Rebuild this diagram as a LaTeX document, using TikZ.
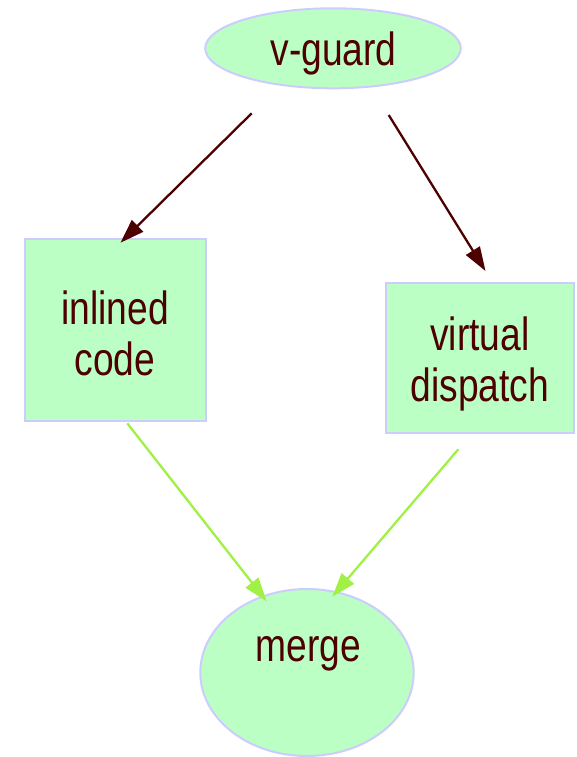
\documentclass[tikz,border=0pt]{standalone}
\usepackage{fontspec}
\setmainfont[FakeStretch=0.8]{Liberation Sans}
\usetikzlibrary{arrows.meta,shapes.geometric}
\definecolor{nodefill}{HTML}{BBFFC4}
\definecolor{nodeline}{HTML}{CCCCFF}
\definecolor{ink}{HTML}{4C0000}
\definecolor{lime}{HTML}{A0F046}
\begin{document}
\begin{tikzpicture}[x=1pt,y=-1pt,
  shapebox/.style={draw=nodeline,fill=nodefill,line width=2pt,inner sep=0pt,outer sep=0pt,rectangle},
  shapeell/.style={draw=nodeline,fill=nodefill,line width=2pt,inner sep=0pt,outer sep=0pt,ellipse},
  lbl/.style={text=ink,font=\fontsize{46.5}{51}\selectfont,anchor=base,inner sep=0pt},
  darkedge/.style={draw=ink,line width=2.3pt,-{Triangle[length=24pt,width=16pt]}},
  greenedge/.style={draw=lime,line width=2.3pt,-{Triangle[length=24pt,width=16pt]}}]
\useasboundingbox (0,0) rectangle (577,757);
\node[shapeell,minimum width=255.6pt,minimum height=80pt] (vg) at (333,48.3) {};
\node[shapebox,minimum width=181pt,minimum height=182pt] (ic) at (115.5,330) {};
\node[shapebox,minimum width=188pt,minimum height=150pt] (vd) at (480,358) {};
\node[shapeell,minimum width=213.4pt,minimum height=167pt] (mg) at (307,672.5) {};
\node[lbl] (vgt) at (333.5,66) {v-guard};
\node[lbl] (ict1) at (115,324) {inlined};
\node[lbl] (ict2) at (115,375) {code};
\node[lbl] (vdt1) at (480,350.7) {virtual};
\node[lbl] (vdt2) at (480,401.7) {dispatch};
\node[lbl] (mgt) at (308.5,661.7) {merge};
\coordinate (s1) at (251.7,113.3);
\coordinate (t1) at (120.5,242.7);
\coordinate (s2) at (388.7,115);
\coordinate (t2) at (485.5,271);
\coordinate (s3) at (127.3,423.3);
\coordinate (t3) at (266.7,601.5);
\coordinate (s4) at (458.3,449.3);
\coordinate (t4) at (332.3,596.7);
\draw[darkedge] (s1) -- (t1);
\draw[darkedge] (s2) -- (t2);
\draw[greenedge] (s3) -- (t3);
\draw[greenedge] (s4) -- (t4);
\end{tikzpicture}
\end{document}
